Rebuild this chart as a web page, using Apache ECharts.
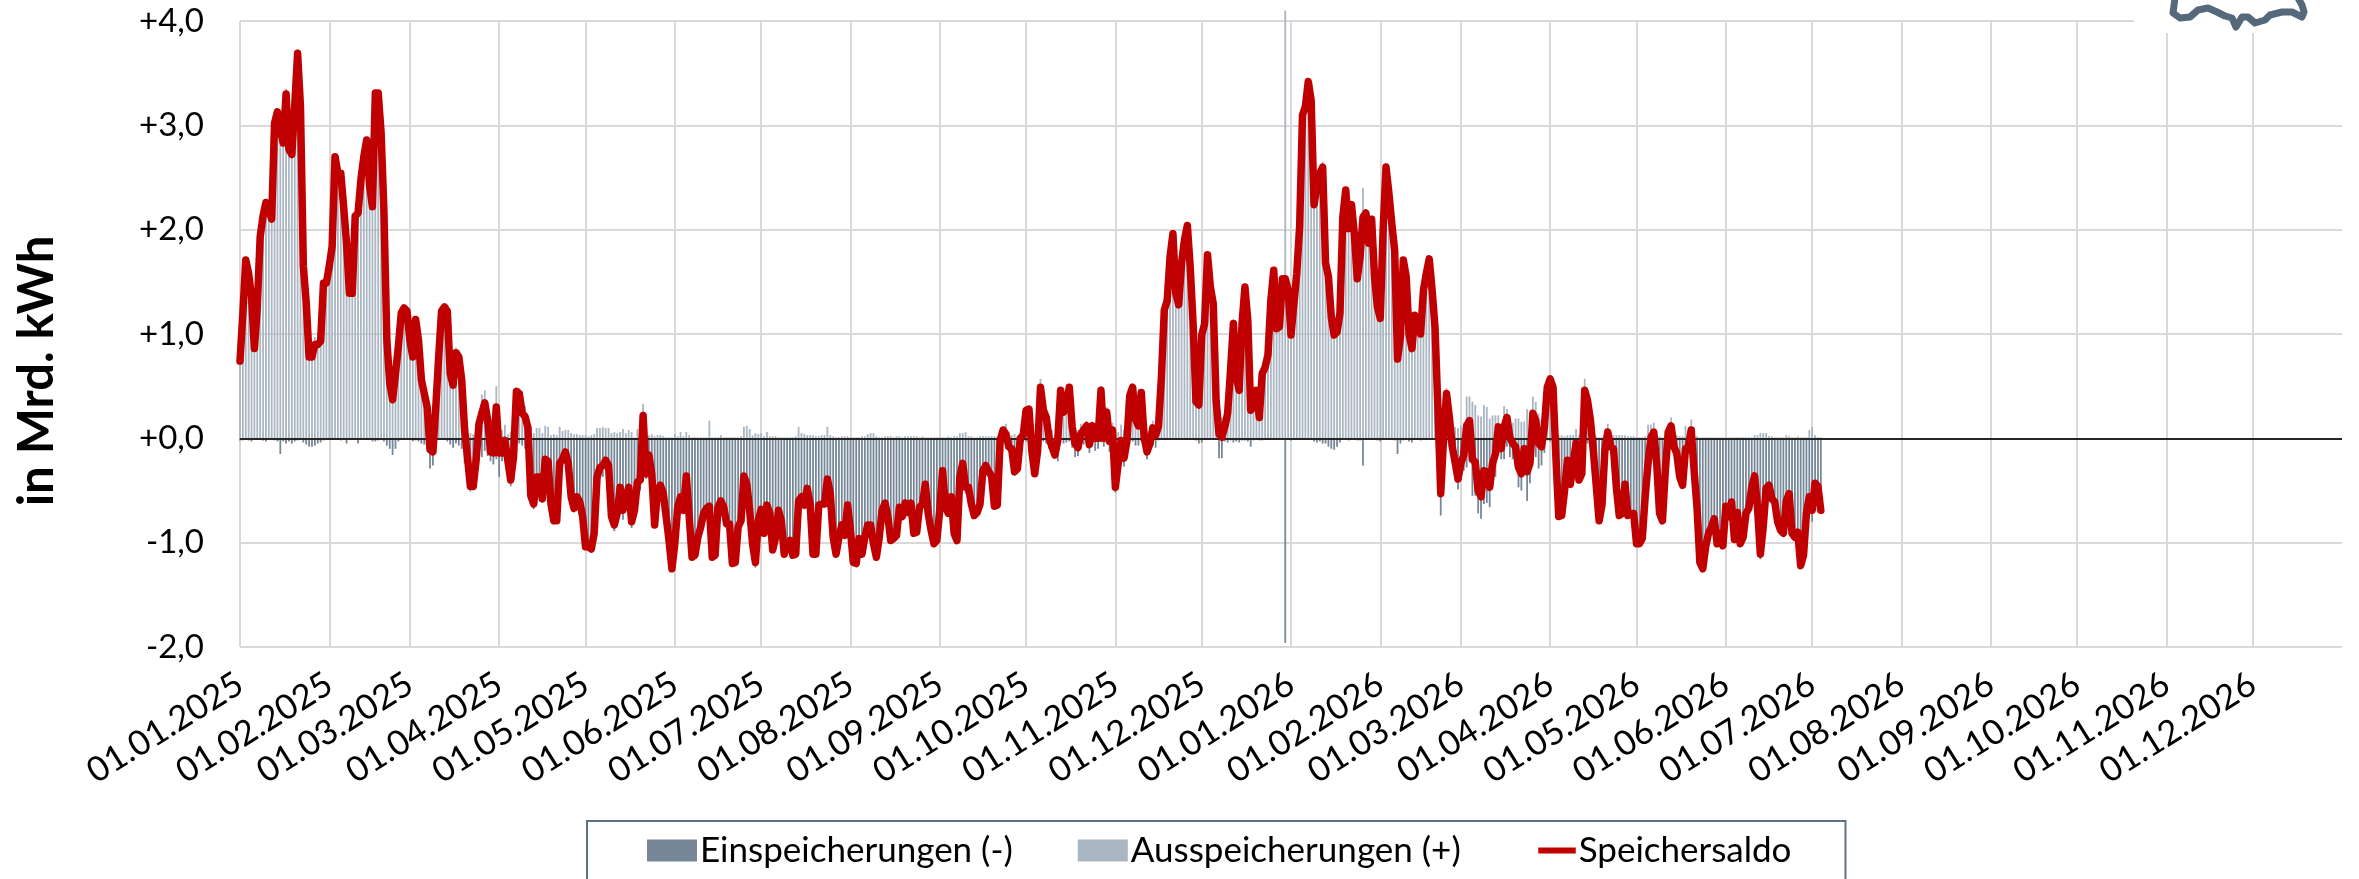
<!DOCTYPE html>
<html><head><meta charset="utf-8"><style>html,body{margin:0;padding:0;background:#fff;overflow:hidden}#c{width:2359px;height:879px}</style>
<script src="https://cdn.jsdelivr.net/npm/echarts@6/dist/echarts.min.js"></script></head><body><div id="c"></div><script>
const speichersaldo=[
.74,1.2,1.71,1.58,1.36,.86,1.26,1.93,2.13,2.26,
2.19,2.1,3.02,3.13,2.96,2.83,3.3,2.77,2.72,3.18,
3.69,3.18,1.65,1.3,.78,.78,.9,.9,.93,1.49,
1.49,1.65,1.84,2.7,2.54,2.54,2.22,1.87,1.39,1.39,
2.13,2.16,2.48,2.7,2.86,2.42,2.22,3.31,3.31,2.93,
2.16,.94,.53,.37,.62,.88,1.2,1.25,1.22,.94,
.78,1.14,.94,.56,.43,.3,-.11,-.13,.3,.78,
1.22,1.26,1.22,.62,.51,.82,.78,.56,.08,-.18,
-.46,-.46,-.21,.14,.24,.34,.18,-.13,-.14,.3,
-.14,-.14,-.02,-.21,-.4,-.18,.45,.43,.24,.21,
.1,-.55,-.63,-.37,-.37,-.58,-.2,-.22,-.63,-.79,
-.79,-.24,-.2,-.13,-.24,-.56,-.67,-.56,-.61,-.75,
-1.04,-1.04,-1.06,-.91,-.37,-.28,-.26,-.21,-.26,-.75,
-.83,-.72,-.47,-.69,-.56,-.47,-.8,-.69,-.42,-.4,
.22,-.34,-.16,-.34,-.83,-.5,-.45,-.53,-.75,-.98,
-1.25,-1.01,-.66,-.56,-.69,-.36,-.75,-1.14,-1.12,-.95,
-.85,-.72,-.67,-.65,-1.14,-1.12,-.66,-.6,-.66,-.82,
-.82,-1.2,-1.19,-.85,-.79,-.36,-.44,-.69,-1.01,-1.19,
-.79,-.68,-.91,-.64,-.72,-1.07,-.95,-.69,-.79,-1.11,
-1.01,-.98,-1.12,-1.11,-.6,-.56,-.64,-.48,-.63,-1.11,
-1.11,-.64,-.63,-.63,-.39,-.53,-.95,-1.11,-.95,-.83,
-.93,-.64,-.88,-1.19,-1.2,-.96,-1.11,-.95,-.83,-.83,
-1.01,-1.14,-.95,-.69,-.62,-.75,-.98,-.96,-.93,-.66,
-.75,-.62,-.71,-.62,-.91,-.9,-.66,-.63,-.44,-.72,
-.88,-1.01,-.98,-.69,-.31,-.66,-.72,-.56,-.91,-.98,
-.37,-.24,-.47,-.47,-.63,-.74,-.71,-.63,-.31,-.26,
-.32,-.36,-.65,-.64,-.02,.08,.04,-.08,-.1,-.32,
-.29,0,.03,.27,.28,-.12,-.34,-.12,.49,.27,
.2,0,-.08,-.16,-.02,.46,.25,.3,.49,.11,
-.05,-.09,.04,.08,.12,-.06,.12,0,0,.46,
0,.25,-.03,.08,-.47,-.24,-.02,-.19,-.03,.41,
.49,.18,.12,.44,.01,-.13,-.05,.1,.03,.12,
.59,1.23,1.32,1.74,1.96,1.39,1.28,1.68,1.9,2.04,
1.64,1.1,.35,.32,.99,1.1,1.76,1.45,1.29,.36,
.04,.01,.11,.24,.65,1.1,.59,.46,1.1,1.45,
1.13,.27,.3,.46,.2,.62,.68,.8,1.32,1.61,
1.05,1.07,1.53,1.53,1.42,.99,1.29,1.58,2.03,3.1,
3.18,3.42,3.24,2.24,2.41,2.54,2.6,1.68,1.55,1.16,
.99,1.02,1.2,2.12,2.38,2.01,2.24,1.96,1.53,1.74,
2.12,2.16,1.87,2.1,1.55,1.26,1.15,2.0,2.6,2.35,
2.06,1.8,.76,.97,1.71,1.55,1.0,.86,1.18,1.13,
1.0,1.42,1.58,1.72,1.42,1.07,.3,-.53,.01,.43,
.2,-.08,-.23,-.39,-.24,-.16,.12,.17,-.2,-.23,
-.5,-.56,-.31,-.32,-.47,-.24,-.15,.11,-.1,.11,
.2,.01,-.05,-.08,-.28,-.34,-.1,-.32,-.24,.24,
.17,-.05,-.08,.11,.49,.57,.49,-.18,-.75,-.74,
-.5,-.21,-.44,-.24,-.05,-.4,-.34,.46,.36,.17,
-.12,-.45,-.79,-.64,-.12,.06,-.08,-.1,-.47,-.74,
-.72,-.44,-.74,-.72,-.72,-1.01,-1.01,-.96,-.56,-.24,
.01,.06,-.24,-.72,-.79,-.31,.06,.12,-.08,-.15,
-.37,-.45,-.1,-.08,.08,-.31,-.66,-1.19,-1.25,-1.04,
-.91,-.85,-.77,-1.01,-.91,-1.03,-.65,-.75,-.61,-.97,
-.71,-1.01,-.95,-.72,-.67,-.47,-.36,-.66,-1.11,-.85,
-.48,-.45,-.58,-.61,-.8,-.88,-.91,-.6,-.53,-.91,
-.95,-.9,-1.22,-1.12,-.72,-.56,-.69,-.43,-.46,-.69];
const einspeicherungen=[
-.02,-.02,-.01,-.02,-.03,-.01,-.01,-.01,-.02,-.03,
-.01,-.01,-.02,-.03,-.15,-.03,-.05,-.03,-.05,-.03,
-.02,-.01,-.04,-.06,-.08,-.08,-.07,-.05,-.04,-.02,
-.01,-.01,-.01,-.01,-.01,-.02,-.01,-.05,-.01,-.01,
-.01,-.05,-.01,-.01,-.01,-.01,-.03,-.03,-.02,-.01,
-.03,-.07,-.1,-.16,-.1,-.03,-.01,-.01,-.01,-.01,
-.03,-.02,-.03,-.05,-.06,-.05,-.29,-.26,-.02,-.01,
-.01,-.01,-.03,-.06,-.09,-.05,-.07,-.1,-.24,-.3,
-.51,-.5,-.3,-.12,-.18,-.12,-.17,-.22,-.25,-.2,
-.37,-.22,-.15,-.25,-.46,-.4,-.04,-.05,-.07,-.1,
-.08,-.6,-.68,-.47,-.47,-.62,-.32,-.33,-.66,-.82,
-.82,-.35,-.27,-.21,-.32,-.61,-.71,-.6,-.64,-.78,
-1.07,-1.06,-1.09,-.95,-.47,-.38,-.37,-.31,-.36,-.8,
-.89,-.77,-.53,-.78,-.61,-.55,-.86,-.7,-.51,-.5,
-.11,-.39,-.19,-.38,-.85,-.53,-.48,-.55,-.76,-.99,
-1.26,-1.05,-.68,-.62,-.71,-.42,-.78,-1.15,-1.13,-.96,
-.86,-.73,-.68,-.82,-1.15,-1.13,-.67,-.63,-.67,-.83,
-.83,-1.21,-1.2,-.86,-.81,-.47,-.56,-.78,-1.04,-1.24,
-.83,-.73,-.93,-.7,-.74,-1.09,-.97,-.7,-.8,-1.12,
-1.02,-.99,-1.13,-1.13,-.71,-.61,-.68,-.51,-.66,-1.14,
-1.13,-.66,-.66,-.66,-.5,-.56,-.97,-1.12,-.96,-.85,
-.95,-.66,-.89,-1.2,-1.21,-.97,-1.13,-.97,-.87,-.88,
-1.06,-1.16,-.96,-.7,-.64,-.77,-1.0,-.97,-.95,-.68,
-.76,-.64,-.73,-.64,-.93,-.92,-.67,-.65,-.45,-.73,
-.89,-1.02,-.99,-.7,-.32,-.67,-.74,-.57,-.93,-1.0,
-.42,-.29,-.53,-.49,-.65,-.75,-.72,-.65,-.33,-.28,
-.34,-.38,-.67,-.66,-.04,-.02,-.1,-.13,-.13,-.36,
-.31,-.05,-.03,-.03,-.03,-.16,-.36,-.16,-.08,-.03,
-.05,-.1,-.16,-.19,-.22,-.02,-.05,-.04,-.03,-.09,
-.18,-.17,-.1,-.06,-.05,-.14,-.04,-.12,-.1,-.04,
-.08,-.05,-.13,-.07,-.52,-.3,-.15,-.27,-.19,-.02,
-.03,-.07,-.07,-.03,-.09,-.2,-.11,-.07,-.09,-.02,
-.01,-.01,-.01,-.01,-.01,-.01,-.01,-.01,-.01,-.01,
-.01,-.01,-.02,-.05,-.04,-.01,-.01,-.01,-.01,-.01,
-.19,-.19,-.03,-.04,-.02,-.04,-.03,-.04,-.02,-.02,
-.03,-.08,-.02,-.01,-.02,-.02,-.01,-.01,-.01,-.01,
-.01,-.01,-.01,-1.96,-.01,-.02,-.01,-.01,-.01,-.01,
-.01,-.01,-.01,-.03,-.04,-.03,-.05,-.05,-.08,-.1,
-.11,-.08,-.04,-.01,-.01,-.02,-.01,-.01,-.02,-.02,
-.26,-.01,-.01,-.01,-.01,-.02,-.03,-.01,-.01,-.01,
-.01,-.02,-.15,-.05,-.02,-.01,-.03,-.04,-.01,-.01,
-.02,-.01,-.01,-.01,-.01,-.01,-.12,-.74,-.15,-.05,
-.08,-.2,-.34,-.49,-.36,-.31,-.28,-.23,-.55,-.55,
-.72,-.77,-.63,-.62,-.66,-.46,-.37,-.11,-.2,-.2,
-.08,-.18,-.2,-.27,-.47,-.5,-.26,-.6,-.43,-.16,
-.18,-.29,-.26,-.14,-.02,-.03,-.02,-.2,-.78,-.77,
-.52,-.24,-.47,-.27,-.14,-.43,-.37,-.11,-.05,-.03,
-.14,-.47,-.8,-.65,-.14,-.08,-.12,-.13,-.5,-.77,
-.75,-.47,-.76,-.74,-.74,-1.02,-1.02,-.97,-.58,-.37,
-.12,-.09,-.27,-.74,-.8,-.33,-.02,-.08,-.13,-.18,
-.39,-.47,-.22,-.15,-.1,-.33,-.68,-1.2,-1.26,-1.05,
-.92,-.86,-.78,-1.02,-.92,-1.04,-.66,-.76,-.62,-.98,
-.72,-1.02,-.96,-.73,-.68,-.48,-.39,-.69,-1.16,-.9,
-.53,-.47,-.6,-.62,-.81,-.89,-.92,-.63,-.55,-.92,
-.96,-.92,-1.23,-1.13,-.73,-.64,-.8,-.46,-.47,-.7];
const ausspeicherungen=[
.76,1.22,1.72,1.6,1.39,.87,1.27,1.94,2.15,2.29,
2.2,2.11,3.04,3.16,3.11,2.86,3.35,2.8,2.77,3.21,
3.71,3.19,1.69,1.36,.86,.86,.97,.95,.97,1.51,
1.5,1.66,1.85,2.71,2.55,2.56,2.23,1.92,1.4,1.4,
2.14,2.21,2.49,2.71,2.87,2.43,2.25,3.34,3.33,2.94,
2.19,1.01,.63,.53,.72,.91,1.21,1.26,1.23,.95,
.81,1.16,.97,.61,.49,.35,.18,.13,.32,.79,
1.23,1.27,1.25,.68,.6,.87,.85,.66,.32,.12,
.05,.04,.09,.26,.42,.46,.35,.09,.11,.5,
.23,.08,.13,.04,.06,.22,.49,.48,.31,.31,
.15,.05,.05,.1,.1,.05,.12,.11,.03,.04,
.03,.11,.07,.08,.08,.05,.04,.04,.03,.03,
.03,.02,.03,.04,.1,.1,.11,.1,.1,.05,
.06,.05,.06,.09,.05,.08,.06,.01,.09,.1,
.33,.05,.03,.04,.02,.03,.03,.02,.01,.01,
.01,.04,.02,.06,.02,.06,.03,.01,.01,.01,
.01,.01,.01,.17,.01,.01,.01,.03,.01,.01,
.01,.01,.01,.01,.02,.11,.12,.09,.03,.05,
.04,.05,.02,.06,.02,.02,.02,.01,.01,.01,
.01,.01,.01,.02,.11,.05,.04,.03,.03,.03,
.02,.02,.03,.03,.11,.03,.02,.01,.01,.02,
.02,.02,.01,.01,.01,.01,.02,.02,.04,.05,
.05,.02,.01,.01,.02,.02,.02,.01,.02,.02,
.01,.02,.02,.02,.02,.02,.01,.02,.01,.01,
.01,.01,.01,.01,.01,.01,.02,.01,.02,.02,
.05,.05,.06,.02,.02,.01,.01,.02,.02,.02,
.02,.02,.02,.02,.02,.1,.14,.05,.03,.04,
.02,.05,.06,.3,.31,.04,.02,.04,.57,.3,
.25,.1,.08,.03,.2,.48,.3,.34,.52,.2,
.13,.08,.14,.14,.17,.08,.16,.12,.1,.5,
.08,.3,.1,.15,.05,.06,.13,.08,.16,.43,
.52,.25,.19,.47,.1,.07,.06,.17,.12,.14,
.6,1.24,1.33,1.75,1.97,1.4,1.29,1.69,1.91,2.05,
1.65,1.11,.37,.37,1.03,1.11,1.77,1.46,1.3,.37,
.23,.2,.14,.28,.67,1.14,.62,.5,1.12,1.47,
1.16,.35,.32,.47,.22,.64,.69,.81,1.33,1.62,
1.06,1.08,1.54,4.1,1.43,1.01,1.3,1.59,2.04,3.11,
3.19,3.43,3.25,2.27,2.45,2.57,2.65,1.73,1.63,1.26,
1.1,1.1,1.24,2.13,2.39,2.03,2.25,1.97,1.55,1.76,
2.4,2.17,1.88,2.11,1.56,1.28,1.18,2.01,2.61,2.36,
2.07,1.82,.91,1.02,1.73,1.56,1.03,.9,1.19,1.14,
1.02,1.43,1.59,1.73,1.43,1.08,.42,.21,.16,.48,
.28,.12,.11,.1,.12,.15,.4,.4,.35,.32,
.22,.21,.32,.3,.19,.22,.22,.22,.1,.31,
.28,.19,.15,.19,.19,.16,.16,.28,.19,.4,
.35,.24,.18,.25,.51,.6,.51,.02,.03,.03,
.02,.03,.03,.03,.09,.03,.03,.57,.41,.2,
.02,.02,.01,.01,.02,.14,.04,.03,.03,.03,
.03,.03,.02,.02,.02,.01,.01,.01,.02,.13,
.13,.15,.03,.02,.01,.02,.08,.2,.05,.03,
.02,.02,.12,.07,.18,.02,.02,.01,.01,.01,
.01,.01,.01,.01,.01,.01,.01,.01,.01,.01,
.01,.01,.01,.01,.01,.01,.03,.03,.05,.05,
.05,.02,.02,.01,.01,.01,.01,.03,.02,.01,
.01,.02,.01,.01,.01,.08,.11,.03,.01,.01];
const yTicks=['-2,0','-1,0','+0,0','+1,0','+2,0','+3,0','+4,0'];
const firstDay=Date.UTC(2025,0,1);
const dayCount=731;
const pad=n=>String(n).padStart(2,'0');
const categories=[];
for(let i=0;i<dayCount;i++){const d=new Date(firstDay+i*864e5);categories.push(pad(d.getUTCDate())+'.'+pad(d.getUTCMonth()+1)+'.'+d.getUTCFullYear());}
const isMonthStart=(i,v)=>v.startsWith('01.')&&!v.endsWith('2027');
const FONT='Lato';
const chart=echarts.init(document.getElementById('c'));
chart.setOption({
  animation:false,backgroundColor:'#fff',
  textStyle:{fontFamily:FONT},
  grid:{left:240,top:21,width:2102,height:626,containLabel:false},
  legend:{left:587,top:821,padding:[12,54,60,60],itemGap:65,itemWidth:50,itemHeight:22,
    backgroundColor:'#fff',borderColor:'#5f7080',borderWidth:2,
    textStyle:{fontFamily:FONT,fontSize:35,color:'#000',padding:[0,0,0,-2]},
    data:[{name:'Einspeicherungen (-)',icon:'rect'},{name:'Ausspeicherungen (+)',icon:'rect'},{name:'Speichersaldo',icon:'path://M-13,0L-13,0M0,0H39V6H0Z'}]},
  xAxis:{type:'category',boundaryGap:false,data:categories,
    axisLine:{show:false},axisTick:{show:false},
    axisLabel:{interval:isMonthStart,rotate:32,margin:34,fontSize:34.5,color:'#000',fontFamily:FONT,hideOverlap:false},
    splitLine:{show:true,interval:isMonthStart,lineStyle:{color:'#d9d9d9',width:2}}},
  yAxis:{type:'value',min:-2,max:4,interval:1,
    axisLine:{show:false},axisTick:{show:false},
    axisLabel:{margin:36,fontSize:33,color:'#000',fontFamily:FONT,formatter:v=>yTicks[v+2]},
    splitLine:{show:true,lineStyle:{color:'#d9d9d9',width:2}}},
  series:[
    {name:'Einspeicherungen (-)',type:'bar',data:einspeicherungen,barWidth:1.8,barGap:'-100%',clip:false,itemStyle:{color:'#768797'},z:2,
     markLine:{silent:true,symbol:'none',label:{show:false},lineStyle:{color:'#262626',width:2,type:'solid'},data:[{yAxis:0}],z:3}},
    {name:'Ausspeicherungen (+)',type:'bar',data:ausspeicherungen,barWidth:1.8,barGap:'-100%',clip:false,itemStyle:{color:'#aab6c2'},z:2},
    {name:'Speichersaldo',type:'line',data:speichersaldo,showSymbol:false,symbol:'none',smooth:false,clip:false,
     lineStyle:{color:'#c00000',width:7.5,join:'round',cap:'round'},itemStyle:{color:'#c00000'},z:5}
  ],
  graphic:[
    {type:'text',z:20,x:37,y:371,rotation:Math.PI/2,style:{text:'in Mrd. kWh',fontFamily:FONT,fontWeight:'bold',fontSize:49,fill:'#000',textAlign:'center',textVerticalAlign:'middle'}},
    {type:'rect',z:20,shape:{x:2134,y:0,width:225,height:33},style:{fill:'#fff'}},
    {type:'polyline',z:21,shape:{points:[[2175,-2],[2173,13],[2180,18],[2190,17],[2198,10],[2208,8],[2217,12],[2225,16],[2232,18],[2236,27],[2242,17],[2248,17],[2255,23],[2265,20],[2270,15],[2282,12],[2292,12],[2302,17],[2304,12],[2302,5],[2298,-2]]},style:{stroke:'#56697b',lineWidth:7,fill:null,lineJoin:'round',lineCap:'round'}}
  ]
});
</script></body></html>
